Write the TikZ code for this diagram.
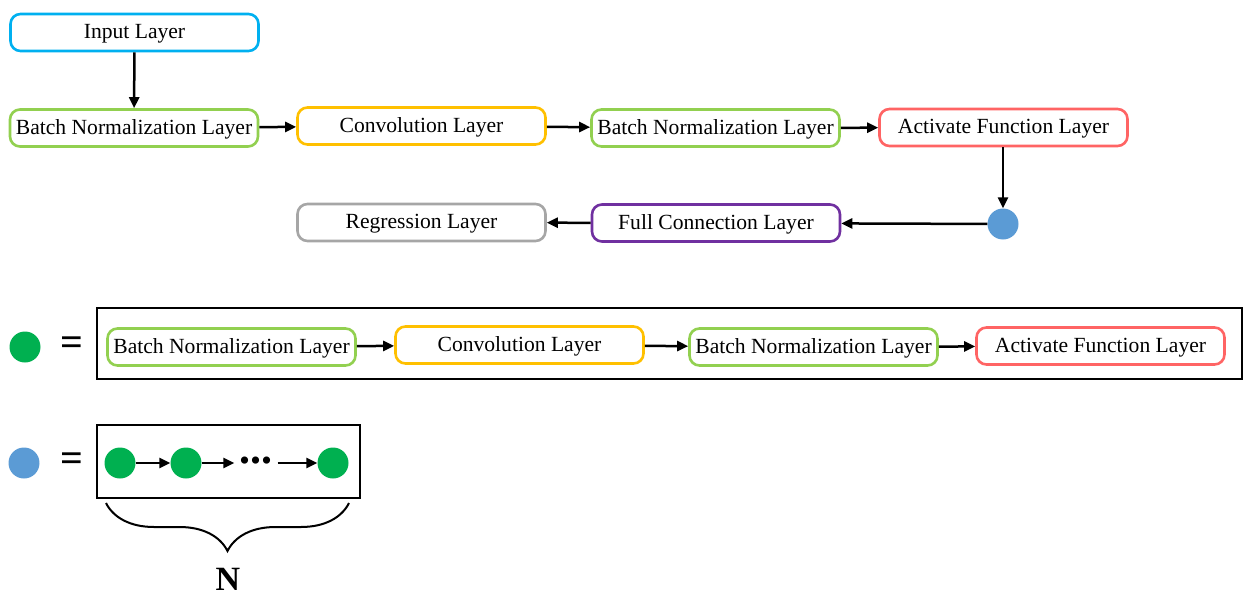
\documentclass[tikz,border=0pt]{standalone}
\usepackage{fontspec}
\setmainfont{Liberation Serif}
\usetikzlibrary{arrows.meta,decorations.pathreplacing}

\definecolor{cinput}{HTML}{00B0F0}
\definecolor{cbn}{HTML}{92D050}
\definecolor{cconv}{HTML}{FFC000}
\definecolor{cact}{HTML}{FF6464}
\definecolor{cfc}{HTML}{7030A0}
\definecolor{creg}{HTML}{A6A6A6}
\definecolor{cblue}{HTML}{5B9BD5}
\definecolor{cgreen}{HTML}{00B050}

\tikzset{
  layer/.style={draw=#1, rounded corners=10pt, line width=2.6pt, fill=white,
    minimum width=248pt, minimum height=37pt, inner sep=0pt,
    text height=15pt, text depth=3pt,
    font=\fontsize{21.6}{25}\selectfont},
  dot/.style={circle, fill=#1, minimum size=30pt, inner sep=0pt},
  flow/.style={line width=2.5pt, -{Triangle[length=11pt,width=10pt]}},
  frame/.style={draw, line width=2pt, inner sep=0pt},
  eqsign/.style={font=\fontsize{40}{40}\bfseries\selectfont, inner sep=0pt}
}

\begin{document}
\begin{tikzpicture}[x=1pt,y=-1pt]
\useasboundingbox (0,0) rectangle (1245,597);

% main network
\node[layer=cinput] (input) at (134.5,32.5) {Input Layer};
\node[layer=cbn]    (bn1)   at (134,128)   {Batch Normalization Layer};
\node[layer=cconv]  (conv1) at (421.5,126) {Convolution Layer};
\node[layer=cbn]    (bn2)   at (715.5,128) {Batch Normalization Layer};
\node[layer=cact]   (act1)  at (1003.5,127.5) {Activate Function Layer};
\node[dot=cblue, minimum width=31pt, minimum height=29pt] (block) at (1003,224) {};
\node[layer=cfc]    (fc)    at (716,223)   {Full Connection Layer};
\node[layer=creg]   (reg)   at (421.5,222.5) {Regression Layer};

\draw[flow] (input) -- (bn1);
\draw[flow] (bn1) -- (conv1);
\draw[flow] (conv1) -- (bn2);
\draw[flow] (bn2) -- (act1);
\draw[flow] (act1.south -| block) -- (block);
\draw[flow] (block) -- (fc);
\draw[flow] (fc) -- (reg);

% green block definition
\node[dot=cgreen, minimum width=31pt, minimum height=29pt] (gkey) at (25,347) {};
\node[eqsign] (eq1) at (72,346) {=};
\node[frame, minimum width=1145pt, minimum height=71pt] (unit) at (669.5,343.5) {};
\node[layer=cbn]   (bn3)   at (231.5,347) {Batch Normalization Layer};
\node[layer=cconv] (conv2) at (519.5,345) {Convolution Layer};
\node[layer=cbn]   (bn4)   at (813.5,347) {Batch Normalization Layer};
\node[layer=cact]  (act2)  at (1100.5,346) {Activate Function Layer};
\draw[flow] (bn3) -- (conv2);
\draw[flow] (conv2) -- (bn4);
\draw[flow] (bn4) -- (act2);

% blue block definition
\node[dot=cblue, minimum width=31pt, minimum height=29pt] (bkey) at (24,463) {};
\node[eqsign] (eq2) at (72,462) {=};
\node[frame, minimum width=263pt, minimum height=73pt] (chain) at (228.5,461.5) {};
\node[dot=cgreen, minimum width=31pt, minimum height=29pt] (g1) at (120,463) {};
\node[dot=cgreen, minimum width=31pt, minimum height=29pt] (g2) at (186,463) {};
\node[dot=cgreen, minimum width=31pt, minimum height=29pt] (g3) at (333,463) {};
\node[font=\fontsize{44}{44}\bfseries\selectfont, inner xsep=5pt, inner ysep=0pt] (more) at (256,461) {...};
\draw[flow] (g1) -- (g2);
\draw[flow] (g2) -- (g2 -| more.west);
\draw[flow] (g3 -| more.east) -- (g3);

% brace counting the repeated blocks
\coordinate (br) at (349,503);
\coordinate (bl) at (106,503);
\draw[line width=2pt, decorate, decoration={brace, amplitude=48pt, aspect=0.5}] (br) -- (bl);
\node[font=\fontsize{34}{34}\bfseries\selectfont] (n) at (228,579) {N};
\end{tikzpicture}
\end{document}
